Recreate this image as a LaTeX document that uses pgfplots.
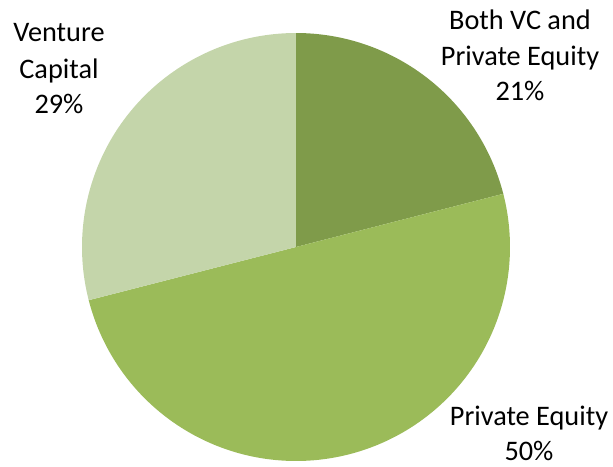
\documentclass[border=0pt]{standalone}
\usepackage{pgfplots}
\pgfplotsset{compat=1.18}
\usepgfplotslibrary{polar}
\usepackage{fontspec}
\setmainfont{Carlito}

\definecolor{bothvc}{HTML}{7F9B4A}
\definecolor{pe}{HTML}{9BBB59}
\definecolor{vc}{HTML}{C4D5AA}

% shares in percent, taken clockwise from twelve o'clock
\def\shareBoth{21}
\def\sharePE{50}
\def\shareVC{29}

\begin{document}
\begin{tikzpicture}[x=1pt,y=1pt,
  every node/.style={font=\fontsize{28.3}{34}\selectfont, inner sep=0pt}]
\pgfmathsetmacro{\aA}{90}
\pgfmathsetmacro{\aB}{\aA-3.6*\shareBoth}
\pgfmathsetmacro{\aC}{\aB-3.6*\sharePE}
\pgfmathsetmacro{\aD}{\aC-3.6*\shareVC}
\begin{polaraxis}[
  name=pie, hide axis, scale only axis,
  width=428pt, height=428pt,
  ymin=0, ymax=1, clip=false]
  % Both VC and Private Equity
  \addplot[fill=bothvc, draw=none, domain=\aB:\aA, samples=80] {1} -- (axis cs:0,0) -- cycle;
  % Private Equity
  \addplot[fill=pe, draw=none, domain=\aC:\aB, samples=160] {1} -- (axis cs:0,0) -- cycle;
  % Venture Capital
  \addplot[fill=vc, draw=none, domain=\aD:\aC, samples=100] {1} -- (axis cs:0,0) -- cycle;
  \coordinate (O) at (axis cs:0,0);
\end{polaraxis}

% slice labels
\node[anchor=base] at ([shift={(-237,205.3)}]O) {Venture};
\node[anchor=base] at ([shift={(-237,168.7)}]O) {Capital};
\node[anchor=base] at ([shift={(-237,133.7)}]O) {\shareVC\%};

\node[anchor=base] at ([shift={(224,217)}]O) {Both VC and};
\node[anchor=base] at ([shift={(224,181.5)}]O) {Private Equity};
\node[anchor=base] at ([shift={(224,146)}]O) {\shareBoth\%};

\node[anchor=base] at ([shift={(233,-178)}]O) {Private Equity};
\node[anchor=base] at ([shift={(233,-213.2)}]O) {\sharePE\%};

\pgfresetboundingbox
\path[use as bounding box] ([shift={(-296,247)}]O) rectangle ([shift={(317,-219)}]O);
\end{tikzpicture}
\end{document}
